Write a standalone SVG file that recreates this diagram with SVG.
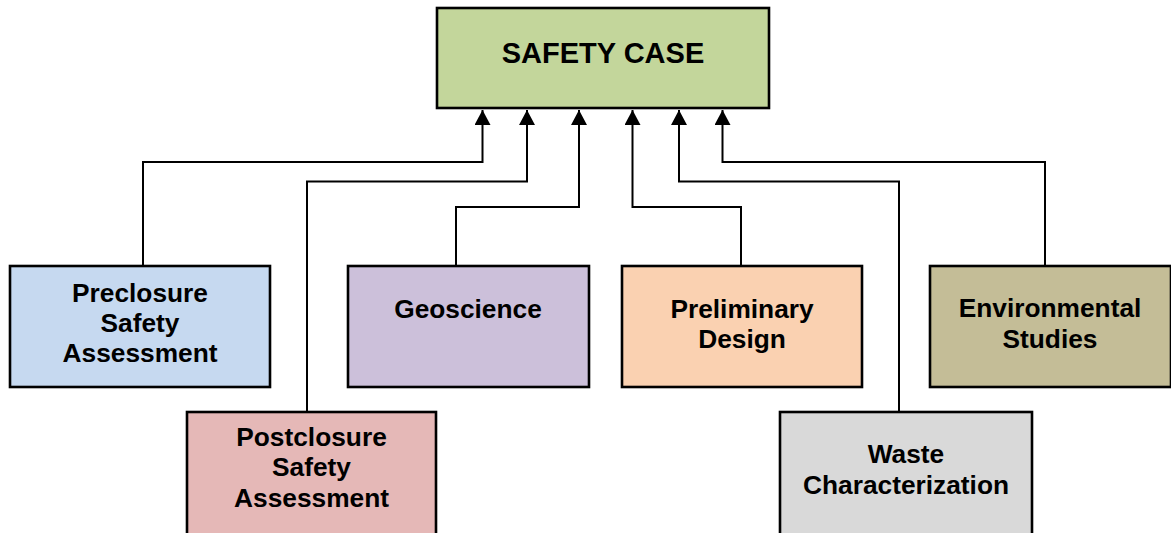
<svg xmlns="http://www.w3.org/2000/svg" width="1171" height="533" viewBox="0 0 1171 533">
<style>
.box{stroke:#000;stroke-width:2.6}
.lbl{font-family:"Liberation Sans",Arial,sans-serif;font-weight:bold;font-size:26.3px;fill:#000;text-anchor:middle}
.title{font-size:29px}
.conn{fill:none;stroke:#000;stroke-width:2}
</style>
<defs>
<marker id="ah" markerWidth="16" markerHeight="16" viewBox="0 0 16 16" refX="15" refY="8" orient="auto" markerUnits="userSpaceOnUse">
<path d="M0,0 L15,8 L0,16 Z" fill="#000"/>
</marker>
</defs>
<rect width="1171" height="533" fill="#fff"/>
<g id="connectors">
<path class="conn" d="M143,266 V162 H482.5 V110" marker-end="url(#ah)"/>
<path class="conn" d="M307,412 V181.5 H527 V110" marker-end="url(#ah)"/>
<path class="conn" d="M456,266 V207 H579 V110" marker-end="url(#ah)"/>
<path class="conn" d="M741,266 V207 H632.5 V110" marker-end="url(#ah)"/>
<path class="conn" d="M899,412 V181.5 H679 V110" marker-end="url(#ah)"/>
<path class="conn" d="M1045,266 V162 H722.5 V110" marker-end="url(#ah)"/>
</g>
<g id="safety-case">
<rect class="box" x="437" y="8" width="332" height="100" fill="#C3D69B"/>
<text class="lbl title" x="603" y="63">SAFETY CASE</text>
</g>
<g id="preclosure">
<rect class="box" x="10" y="266" width="260" height="121" fill="#C6D9F0"/>
<text class="lbl" x="140" y="302">Preclosure</text>
<text class="lbl" x="140" y="332">Safety</text>
<text class="lbl" x="140" y="362">Assessment</text>
</g>
<g id="postclosure">
<rect class="box" x="187" y="412" width="249" height="130" fill="#E5B8B7"/>
<text class="lbl" x="311.5" y="446">Postclosure</text>
<text class="lbl" x="311.5" y="476">Safety</text>
<text class="lbl" x="311.5" y="507">Assessment</text>
</g>
<g id="geoscience">
<rect class="box" x="348" y="266" width="241" height="121" fill="#CCC0DA"/>
<text class="lbl" x="468" y="318">Geoscience</text>
</g>
<g id="preliminary-design">
<rect class="box" x="622" y="266" width="240" height="121" fill="#FAD1B1"/>
<text class="lbl" x="742" y="318">Preliminary</text>
<text class="lbl" x="742" y="348">Design</text>
</g>
<g id="waste">
<rect class="box" x="780" y="412" width="252" height="130" fill="#D9D9D9"/>
<text class="lbl" x="906" y="463">Waste</text>
<text class="lbl" x="906" y="494">Characterization</text>
</g>
<g id="environmental">
<rect class="box" x="930" y="266" width="241" height="121" fill="#C4BD97"/>
<text class="lbl" x="1050" y="317">Environmental</text>
<text class="lbl" x="1050" y="348">Studies</text>
</g>
</svg>
